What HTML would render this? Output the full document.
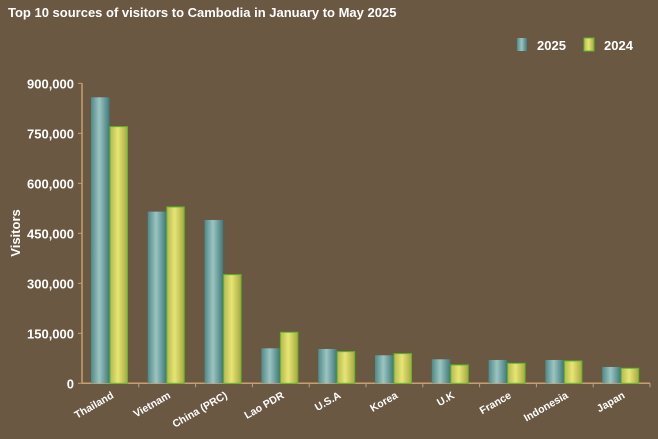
<!DOCTYPE html>
<html><head><meta charset="utf-8"><style>
body{margin:0;background:#6a5842;}
svg{display:block;font-family:"Liberation Sans",sans-serif;}
</style></head><body>
<svg id="chart" width="658" height="439">
<defs>
<linearGradient id="g25" x1="0" x2="1"><stop offset="0" stop-color="#4e8a8a"/><stop offset="0.45" stop-color="#9cc4c0"/><stop offset="1" stop-color="#3f7a7c"/></linearGradient>
<linearGradient id="g24" x1="0" x2="1"><stop offset="0" stop-color="#b8b84c"/><stop offset="0.45" stop-color="#e6e676"/><stop offset="1" stop-color="#a8a840"/></linearGradient>
</defs>
<rect width="658" height="439" fill="#6a5842"/>
<text x="8" y="17" fill="#fff" font-size="13" font-weight="bold">Top 10 sources of visitors to Cambodia in January to May 2025</text>
<g>
<rect x="517" y="38" width="10" height="13" fill="url(#g25)"/>
<text x="537" y="50" fill="#fff" font-size="13" font-weight="bold">2025</text>
<rect x="584" y="38" width="10" height="13" fill="url(#g24)" stroke="#5ab82a"/>
<text x="604" y="50" fill="#fff" font-size="13" font-weight="bold">2024</text>
</g>
<text transform="translate(20,233) rotate(-90)" text-anchor="middle" fill="#fff" font-size="13" font-weight="bold">Visitors</text>
<g id="axes"></g>
<g id="bars"></g>
</svg>
<script>
const categories=["Thailand","Vietnam","China (PRC)","Lao PDR","U.S.A","Korea","U.K","France","Indonesia","Japan"];
const values2025=[858000,515000,490000,105000,103000,84000,72000,70000,70000,49000];
const values2024=[770000,529000,326000,153000,95000,89000,55000,60000,67000,45000];
const yTicks=[0,150000,300000,450000,600000,750000,900000];
const yTickLabels=["0","150,000","300,000","450,000","600,000","750,000","900,000"];
const NS="http://www.w3.org/2000/svg";
const x0=82,x1=650,y0=383.3,yTop=83.3,yMax=900000;
const band=(x1-x0)/categories.length;
function y(v){return y0-(v/yMax)*(y0-yTop);}
function xc(i){return x0+band*i;}
function mk(tag,attrs,parent){const e=document.createElementNS(NS,tag);for(const k in attrs)e.setAttribute(k,attrs[k]);parent.appendChild(e);return e;}
const ax=document.getElementById('axes'),bars=document.getElementById('bars');
let l=mk('line',{x1:x0,y1:yTop,x2:x0,y2:y0,stroke:'#c8a070','stroke-width':1.5},ax);


l=mk('line',{x1:x0,y1:y0,x2:x1,y2:y0,stroke:'#c8a070','stroke-width':1.5},ax);


yTicks.forEach((t,i)=>{
 const tk=mk('line',{x1:x0-4,y1:y(t),x2:x0,y2:y(t),stroke:'#c8a070'},ax);
 
 
 const tx=mk('text',{x:x0-8,y:y(t)+5,'text-anchor':'end',fill:'#fff','font-size':13,'font-weight':'bold'},ax);
 tx.textContent=yTickLabels[i];
 
 
});
categories.forEach((c,i)=>{
 const tk=mk('line',{x1:xc(i+1),y1:y0,x2:xc(i+1),y2:y0+4,stroke:'#c8a070'},ax);
 
 
 const cx=xc(i)+band/2+4;
 const tx=mk('text',{x:cx,y:y0+14,'text-anchor':'end',fill:'#fff','font-size':10.5,'font-weight':'bold',transform:`rotate(-30 ${cx} ${y0+14})`},ax);
 tx.textContent=c;
 
 
 const bw=18.5,bx=xc(i)+9;
 const b1=mk('rect',{x:bx,y:y(values2025[i]),width:bw,height:y0-y(values2025[i]),fill:'url(#g25)'},bars);
 
 
 const b2=mk('rect',{x:bx+bw+0.5,y:y(values2024[i]),width:bw-1,height:y0-y(values2024[i]),fill:'url(#g24)',stroke:'#5ab82a','stroke-width':1},bars);
 
 
});
</script>
</body></html>
